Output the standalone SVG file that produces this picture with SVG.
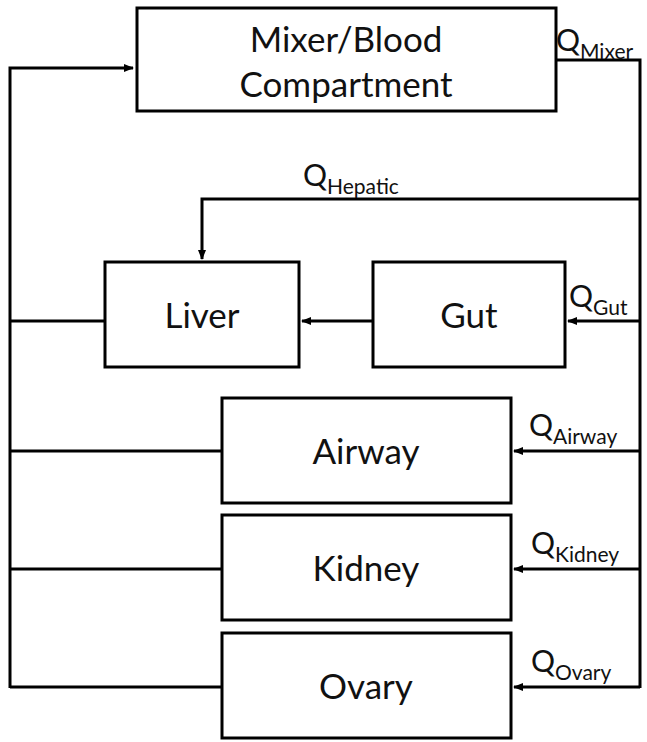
<svg xmlns="http://www.w3.org/2000/svg" width="647" height="742" viewBox="0 0 647 742">
<style>
.box{fill:#fff;stroke:#000;stroke-width:3}
.ln{fill:none;stroke:#000;stroke-width:3}
.t{font-family:Lato,"Open Sans",sans-serif;font-size:35px;fill:#111;text-anchor:middle}
.q{font-family:Lato,"Open Sans",sans-serif;font-size:30px;fill:#111}
.s{font-size:21px}
</style>
<defs>
<marker id="ah" markerWidth="10" markerHeight="10" refX="9" refY="5" orient="auto" markerUnits="userSpaceOnUse">
<path d="M0,1 L10,5 L0,9 Z" fill="#000"/>
</marker>
</defs>
<g id="connectors">
<path class="ln" d="M10,688 L10,68 L133,68" marker-end="url(#ah)"/>
<path class="ln" d="M556,60 L640,60 L640,688"/>
<path class="ln" d="M640,199 L202,199 L202,259" marker-end="url(#ah)"/>
<path class="ln" d="M105,321 L10,321"/>
<path class="ln" d="M373,321 L302,321" marker-end="url(#ah)"/>
<path class="ln" d="M640,321 L568,321" marker-end="url(#ah)"/>
<path class="ln" d="M222,451 L10,451"/>
<path class="ln" d="M640,451 L514,451" marker-end="url(#ah)"/>
<path class="ln" d="M222,569 L10,569"/>
<path class="ln" d="M640,569 L514,569" marker-end="url(#ah)"/>
<path class="ln" d="M222,687 L10,687"/>
<path class="ln" d="M640,687 L514,687" marker-end="url(#ah)"/>
</g>
<g id="mixer">
<rect class="box" x="137" y="8" width="419" height="103"/>
<text class="t" x="346" y="52">Mixer/Blood</text>
<text class="t" x="346" y="97">Compartment</text>
</g>
<g id="liver">
<rect class="box" x="105" y="262" width="194" height="105"/>
<text class="t" x="202" y="328">Liver</text>
</g>
<g id="gut">
<rect class="box" x="373" y="262" width="192" height="105"/>
<text class="t" x="469" y="328">Gut</text>
</g>
<g id="airway">
<rect class="box" x="222" y="398" width="289" height="105"/>
<text class="t" x="366" y="464">Airway</text>
</g>
<g id="kidney">
<rect class="box" x="222" y="515" width="289" height="105"/>
<text class="t" x="366" y="581">Kidney</text>
</g>
<g id="ovary">
<rect class="box" x="222" y="633" width="289" height="105"/>
<text class="t" x="366" y="699">Ovary</text>
</g>
<g id="labels">
<text class="q" x="556" y="51">Q<tspan class="s" dy="8">Mixer</tspan></text>
<text class="q" x="303" y="186">Q<tspan class="s" dy="8">Hepatic</tspan></text>
<text class="q" x="569" y="307">Q<tspan class="s" dy="8">Gut</tspan></text>
<text class="q" x="529" y="436">Q<tspan class="s" dy="8">Airway</tspan></text>
<text class="q" x="531" y="554">Q<tspan class="s" dy="8">Kidney</tspan></text>
<text class="q" x="531" y="672">Q<tspan class="s" dy="8">Ovary</tspan></text>
</g>
</svg>
